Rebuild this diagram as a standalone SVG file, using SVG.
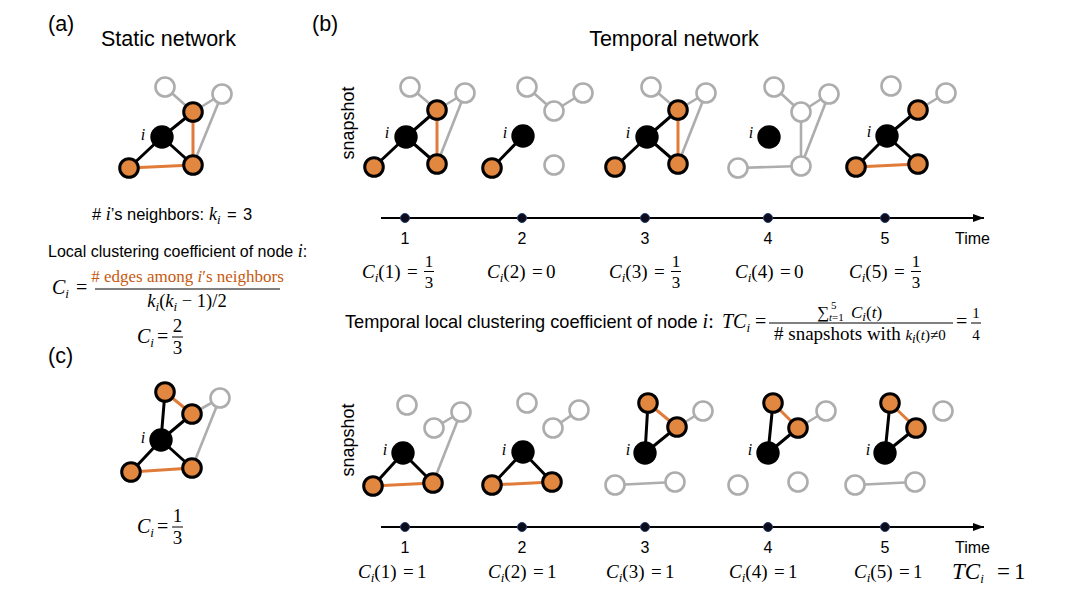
<svg xmlns="http://www.w3.org/2000/svg" width="1072" height="598" viewBox="0 0 1072 598">
<defs>
<style>
.ek{stroke:#000;stroke-width:3;stroke-linecap:round}
.eo{stroke:#E07B39;stroke-width:3}
.eg{stroke:#ADADAD;stroke-width:2.6}
.no{fill:#E2873F;stroke:#000;stroke-width:3}
.nk{fill:#000}
.ng{fill:#fff;stroke:#ADADAD;stroke-width:2.6}
.li{font-family:"Liberation Serif","DejaVu Serif",serif;font-style:italic;font-size:16px;text-anchor:middle;fill:#000}
.sans{font-family:"Liberation Sans",Arial,sans-serif;fill:#000}
.m{font-family:"Liberation Serif","DejaVu Serif",serif;fill:#000}
.it{font-style:italic}
.sub{font-style:italic;font-size:13px}
.tick{font-family:"Liberation Sans",Arial,sans-serif;font-size:16px;text-anchor:middle}
.dot{fill:#0c0c1c;stroke:#24406e;stroke-width:1}
.axis{stroke:#000;stroke-width:2}
.fl{stroke:#000;stroke-width:1}
</style>
<marker id="arr" markerUnits="userSpaceOnUse" markerWidth="11" markerHeight="8" refX="11" refY="4" orient="auto">
<path d="M0,0 L11,4 L0,8 z" fill="#000"/>
</marker>
</defs>
<rect width="1072" height="598" fill="#fff"/>

<!-- Panel labels and titles -->
<text class="sans" x="48" y="31" font-size="21.5">(a)</text>
<text class="sans" x="168.5" y="46" font-size="21.5" text-anchor="middle">Static network</text>
<text class="sans" x="312" y="31" font-size="21.5">(b)</text>
<text class="sans" x="674" y="46" font-size="21.5" text-anchor="middle">Temporal network</text>
<text class="sans" x="48" y="363" font-size="21.5">(c)</text>

<!-- Panel (a) static network -->
<g id="static-net">
<g id="static-edges">
<line class="eg" x1="165" y1="87" x2="193" y2="112"/>
<line class="eg" x1="193" y1="112" x2="222" y2="94"/>
<line class="eg" x1="222" y1="94" x2="193" y2="165"/>
<line class="eo" x1="193" y1="112" x2="193" y2="165"/>
<line class="eo" x1="129" y1="168" x2="193" y2="165"/>
<line class="ek" x1="162" y1="137" x2="193" y2="112"/>
<line class="ek" x1="162" y1="137" x2="129" y2="168"/>
<line class="ek" x1="162" y1="137" x2="193" y2="165"/>
</g>
<g id="static-nodes">
<circle class="ng" cx="165" cy="87" r="9.5"/>
<circle class="ng" cx="222" cy="94" r="9.5"/>
<circle class="no" cx="193" cy="112" r="9.3"/>
<circle class="no" cx="129" cy="168" r="9.3"/>
<circle class="no" cx="193" cy="165" r="9.3"/>
<circle class="nk" cx="162" cy="137" r="11.7"/>
<text class="li" x="143" y="140">i</text>
</g>
</g>

<!-- Panel (a) text -->
<g id="a-text">
<text class="sans" y="220" font-size="16.5"><tspan x="92"># </tspan><tspan class="m it" font-size="18">i</tspan><tspan>’s neighbors: </tspan><tspan class="m it" x="209" font-size="18">k</tspan><tspan class="m sub" dy="4" font-size="12">i</tspan><tspan x="227" dy="-4">=</tspan><tspan x="243">3</tspan></text>
<text class="sans" x="48" y="257" font-size="16">Local clustering coefficient of node <tspan class="m it" font-size="18">i</tspan>:</text>
<text class="m" y="294" font-size="20"><tspan class="it" x="52">C</tspan><tspan class="sub" dy="4">i</tspan><tspan x="76" dy="-4">=</tspan></text>
<text class="m" x="187.5" y="282" font-size="17" text-anchor="middle" style="fill:#C55A11"># edges among <tspan class="it">i</tspan>′s neighbors</text>
<line class="fl" x1="95" y1="289" x2="280" y2="289"/>
<text class="m" x="187" y="307" font-size="18.5" text-anchor="middle"><tspan class="it">k</tspan><tspan class="sub" dy="4">i</tspan><tspan dy="-4">(</tspan><tspan class="it">k</tspan><tspan class="sub" dy="4">i</tspan><tspan dy="-4"> − 1)/2</tspan></text>
<text class="m" y="343" font-size="20"><tspan class="it" x="137">C</tspan><tspan class="sub" dy="4">i</tspan><tspan x="157" dy="-4">=</tspan></text>
<text class="m" x="177.5" y="332" font-size="19" text-anchor="middle">2</text>
<line class="fl" x1="172" y1="337" x2="183" y2="337"/>
<text class="m" x="177.5" y="354" font-size="19" text-anchor="middle">3</text>
</g>

<!-- Panel (c) network -->
<g id="c-net">
<g id="c-edges">
<line class="eg" x1="192" y1="414" x2="220" y2="398"/>
<line class="eg" x1="220" y1="398" x2="192" y2="468"/>
<line class="eo" x1="165" y1="392" x2="192" y2="414"/>
<line class="eo" x1="131" y1="472" x2="192" y2="468"/>
<line class="ek" x1="161" y1="440" x2="165" y2="392"/>
<line class="ek" x1="161" y1="440" x2="192" y2="414"/>
<line class="ek" x1="161" y1="440" x2="131" y2="472"/>
<line class="ek" x1="161" y1="440" x2="192" y2="468"/>
</g>
<g id="c-nodes">
<circle class="ng" cx="220" cy="398" r="9.5"/>
<circle class="no" cx="165" cy="392" r="9.3"/>
<circle class="no" cx="192" cy="414" r="9.3"/>
<circle class="no" cx="131" cy="472" r="9.3"/>
<circle class="no" cx="192" cy="468" r="9.3"/>
<circle class="nk" cx="161" cy="440" r="11.7"/>
<text class="li" x="143" y="443">i</text>
</g>
</g>
<g id="c-text">
<text class="m" y="533" font-size="20"><tspan class="it" x="137">C</tspan><tspan class="sub" dy="4">i</tspan><tspan x="157" dy="-4">=</tspan></text>
<text class="m" x="177.5" y="522" font-size="19" text-anchor="middle">1</text>
<line class="fl" x1="172" y1="527" x2="183" y2="527"/>
<text class="m" x="177.5" y="544" font-size="19" text-anchor="middle">3</text>
</g>

<!-- snapshot labels -->
<text class="sans" font-size="18" text-anchor="middle" transform="translate(354,123) rotate(-90)">snapshot</text>
<text class="sans" font-size="18" text-anchor="middle" transform="translate(354,440) rotate(-90)">snapshot</text>

<!-- Top snapshots -->
<g id="top-1">
<g class="connectors">
<line class="eg" x1="410" y1="87" x2="437" y2="110"/>
<line class="eg" x1="437" y1="110" x2="465" y2="93"/>
<line class="eg" x1="465" y1="93" x2="437" y2="164"/>
<line class="eo" x1="437" y1="110" x2="437" y2="164"/>
<line class="ek" x1="406" y1="137" x2="437" y2="110"/>
<line class="ek" x1="406" y1="137" x2="374" y2="167"/>
<line class="ek" x1="406" y1="137" x2="437" y2="164"/>
</g>
<circle class="ng" cx="410" cy="87" r="9.5"/>
<circle class="ng" cx="465" cy="93" r="9.5"/>
<circle class="no" cx="437" cy="110" r="9.3"/>
<circle class="no" cx="374" cy="167" r="9.3"/>
<circle class="no" cx="437" cy="164" r="9.3"/>
<circle class="nk" cx="406" cy="137" r="11.7"/>
<text class="li" x="387" y="138">i</text>
</g>
<g id="top-2">
<g class="connectors">
<line class="eg" x1="527" y1="87" x2="554" y2="111"/>
<line class="eg" x1="554" y1="111" x2="583" y2="93"/>
<line class="ek" x1="523" y1="136" x2="492" y2="168"/>
</g>
<circle class="ng" cx="527" cy="87" r="9.5"/>
<circle class="ng" cx="554" cy="111" r="9.5"/>
<circle class="ng" cx="583" cy="93" r="9.5"/>
<circle class="ng" cx="554" cy="165" r="9.5"/>
<circle class="no" cx="492" cy="168" r="9.3"/>
<circle class="nk" cx="523" cy="136" r="11.7"/>
<text class="li" x="505" y="138">i</text>
</g>
<g id="top-3">
<g class="connectors">
<line class="eg" x1="651" y1="87" x2="678" y2="110"/>
<line class="eg" x1="678" y1="110" x2="706" y2="93"/>
<line class="eg" x1="706" y1="93" x2="678" y2="164"/>
<line class="eo" x1="678" y1="110" x2="678" y2="164"/>
<line class="ek" x1="647" y1="137" x2="678" y2="110"/>
<line class="ek" x1="647" y1="137" x2="615" y2="167"/>
<line class="ek" x1="647" y1="137" x2="678" y2="164"/>
</g>
<circle class="ng" cx="651" cy="87" r="9.5"/>
<circle class="ng" cx="706" cy="93" r="9.5"/>
<circle class="no" cx="678" cy="110" r="9.3"/>
<circle class="no" cx="615" cy="167" r="9.3"/>
<circle class="no" cx="678" cy="164" r="9.3"/>
<circle class="nk" cx="647" cy="137" r="11.7"/>
<text class="li" x="628" y="138">i</text>
</g>
<g id="top-4">
<g class="connectors">
<line class="eg" x1="774" y1="87" x2="801" y2="112"/>
<line class="eg" x1="801" y1="112" x2="829" y2="94"/>
<line class="eg" x1="801" y1="112" x2="801" y2="166"/>
<line class="eg" x1="829" y1="94" x2="801" y2="166"/>
<line class="eg" x1="738" y1="168" x2="801" y2="166"/>
</g>
<circle class="ng" cx="774" cy="87" r="9.5"/>
<circle class="ng" cx="801" cy="112" r="9.5"/>
<circle class="ng" cx="829" cy="94" r="9.5"/>
<circle class="ng" cx="738" cy="168" r="9.5"/>
<circle class="ng" cx="801" cy="166" r="9.5"/>
<circle class="nk" cx="769" cy="137" r="11.7"/>
<text class="li" x="751" y="138">i</text>
</g>
<g id="top-5">
<g class="connectors">
<line class="eg" x1="918" y1="110" x2="946" y2="93"/>
<line class="eo" x1="856" y1="167" x2="918" y2="164"/>
<line class="ek" x1="887" y1="136" x2="918" y2="110"/>
<line class="ek" x1="887" y1="136" x2="856" y2="167"/>
<line class="ek" x1="887" y1="136" x2="918" y2="164"/>
</g>
<circle class="ng" cx="891" cy="86" r="9.5"/>
<circle class="ng" cx="946" cy="93" r="9.5"/>
<circle class="no" cx="918" cy="110" r="9.3"/>
<circle class="no" cx="856" cy="167" r="9.3"/>
<circle class="no" cx="918" cy="164" r="9.3"/>
<circle class="nk" cx="887" cy="136" r="11.7"/>
<text class="li" x="869" y="137">i</text>
</g>

<!-- Top timeline -->
<g id="timeline-top">
<line class="axis" x1="381" y1="218" x2="984" y2="218" marker-end="url(#arr)"/>
<circle class="dot" cx="405" cy="218" r="4.5"/>
<circle class="dot" cx="522" cy="218" r="4.5"/>
<circle class="dot" cx="645" cy="218" r="4.5"/>
<circle class="dot" cx="768" cy="218" r="4.5"/>
<circle class="dot" cx="885" cy="218" r="4.5"/>
<text class="tick" x="405" y="244">1</text>
<text class="tick" x="522" y="244">2</text>
<text class="tick" x="645" y="244">3</text>
<text class="tick" x="768" y="244">4</text>
<text class="tick" x="885" y="244">5</text>
<text class="sans" x="955" y="244" font-size="16">Time</text>
</g>

<!-- Top C labels -->
<g id="c-top">
<g transform="translate(362,278)">
<text class="m" font-size="19"><tspan class="it" x="0">C</tspan><tspan class="sub" dy="4">i</tspan><tspan dy="-4">(1)</tspan><tspan x="45">=</tspan></text>
<text class="m" x="67" y="-11" font-size="17" text-anchor="middle">1</text>
<line class="fl" x1="62" y1="-6.5" x2="72" y2="-6.5"/>
<text class="m" x="67" y="10" font-size="17" text-anchor="middle">3</text>
</g>
<g transform="translate(487,278)">
<text class="m" font-size="19"><tspan class="it" x="0">C</tspan><tspan class="sub" dy="4">i</tspan><tspan dy="-4">(2)</tspan><tspan x="45">=</tspan><tspan x="59">0</tspan></text>
</g>
<g transform="translate(609,278)">
<text class="m" font-size="19"><tspan class="it" x="0">C</tspan><tspan class="sub" dy="4">i</tspan><tspan dy="-4">(3)</tspan><tspan x="45">=</tspan></text>
<text class="m" x="67" y="-11" font-size="17" text-anchor="middle">1</text>
<line class="fl" x1="62" y1="-6.5" x2="72" y2="-6.5"/>
<text class="m" x="67" y="10" font-size="17" text-anchor="middle">3</text>
</g>
<g transform="translate(735,278)">
<text class="m" font-size="19"><tspan class="it" x="0">C</tspan><tspan class="sub" dy="4">i</tspan><tspan dy="-4">(4)</tspan><tspan x="45">=</tspan><tspan x="59">0</tspan></text>
</g>
<g transform="translate(849,278)">
<text class="m" font-size="19"><tspan class="it" x="0">C</tspan><tspan class="sub" dy="4">i</tspan><tspan dy="-4">(5)</tspan><tspan x="45">=</tspan></text>
<text class="m" x="67" y="-11" font-size="17" text-anchor="middle">1</text>
<line class="fl" x1="62" y1="-6.5" x2="72" y2="-6.5"/>
<text class="m" x="67" y="10" font-size="17" text-anchor="middle">3</text>
</g>
</g>

<!-- TC formula -->
<g id="tc-formula">
<text class="sans" x="345" y="328" font-size="18.2">Temporal local clustering coefficient of node <tspan class="m it" font-size="20">i</tspan><tspan class="m" font-size="20">:</tspan><tspan class="m it" x="722" font-size="20">TC</tspan><tspan class="m sub" dy="4" font-size="14">i</tspan><tspan class="m" x="755" dy="-4" font-size="20">=</tspan></text>
<text class="m" x="817" y="318" font-size="17">∑</text>
<text class="m" x="831" y="309" font-size="11">5</text>
<text class="m" x="829" y="321" font-size="11"><tspan class="it">t</tspan>=1</text>
<text class="m" x="851" y="318" font-size="17"><tspan class="it">C</tspan><tspan class="sub" font-size="12" dy="3">i</tspan><tspan dy="-3">(</tspan><tspan class="it">t</tspan>)</text>
<line class="fl" x1="769" y1="323" x2="953" y2="323"/>
<text class="m" x="774" y="340" font-size="19"># snapshots with <tspan class="it" font-size="15">k</tspan><tspan class="sub" font-size="10" dy="3">i</tspan><tspan font-size="15" dy="-3">(</tspan><tspan class="it" font-size="15">t</tspan><tspan font-size="15">)≠0</tspan></text>
<text class="m" x="956" y="328" font-size="20">=</text>
<text class="m" x="976" y="318" font-size="15" text-anchor="middle">1</text>
<line class="fl" x1="971" y1="323" x2="981" y2="323"/>
<text class="m" x="976" y="340" font-size="15" text-anchor="middle">4</text>
</g>

<!-- Bottom snapshots -->
<g id="bot-1">
<g class="connectors">
<line class="eg" x1="434" y1="428" x2="461" y2="412"/>
<line class="eg" x1="461" y1="412" x2="433" y2="483"/>
<line class="eo" x1="373" y1="486" x2="433" y2="483"/>
<line class="ek" x1="403" y1="453" x2="373" y2="486"/>
<line class="ek" x1="403" y1="453" x2="433" y2="483"/>
</g>
<circle class="ng" cx="407" cy="405" r="9.5"/>
<circle class="ng" cx="434" cy="428" r="9.5"/>
<circle class="ng" cx="461" cy="412" r="9.5"/>
<circle class="no" cx="373" cy="486" r="9.3"/>
<circle class="no" cx="433" cy="483" r="9.3"/>
<circle class="nk" cx="403" cy="453" r="11.7"/>
<text class="li" x="385" y="455">i</text>
</g>
<g id="bot-2">
<g class="connectors">
<line class="eg" x1="553" y1="428" x2="579" y2="410"/>
<line class="eo" x1="492" y1="485" x2="552" y2="482"/>
<line class="ek" x1="523" y1="452" x2="492" y2="485"/>
<line class="ek" x1="523" y1="452" x2="552" y2="482"/>
</g>
<circle class="ng" cx="527" cy="403" r="9.5"/>
<circle class="ng" cx="553" cy="428" r="9.5"/>
<circle class="ng" cx="579" cy="410" r="9.5"/>
<circle class="no" cx="492" cy="485" r="9.3"/>
<circle class="no" cx="552" cy="482" r="9.3"/>
<circle class="nk" cx="523" cy="452" r="11.7"/>
<text class="li" x="504" y="455">i</text>
</g>
<g id="bot-3">
<g class="connectors">
<line class="eg" x1="677" y1="427" x2="703" y2="411"/>
<line class="eg" x1="615" y1="485" x2="675" y2="482"/>
<line class="eo" x1="648" y1="403" x2="677" y2="427"/>
<line class="ek" x1="645" y1="453" x2="648" y2="403"/>
<line class="ek" x1="645" y1="453" x2="677" y2="427"/>
</g>
<circle class="ng" cx="703" cy="411" r="9.5"/>
<circle class="ng" cx="615" cy="485" r="9.5"/>
<circle class="ng" cx="675" cy="482" r="9.5"/>
<circle class="no" cx="648" cy="403" r="9.3"/>
<circle class="no" cx="677" cy="427" r="9.3"/>
<circle class="nk" cx="645" cy="453" r="11.7"/>
<text class="li" x="628" y="455">i</text>
</g>
<g id="bot-4">
<g class="connectors">
<line class="eg" x1="798" y1="428" x2="826" y2="411"/>
<line class="eo" x1="773" y1="403" x2="798" y2="428"/>
<line class="ek" x1="768" y1="453" x2="773" y2="403"/>
<line class="ek" x1="768" y1="453" x2="798" y2="428"/>
</g>
<circle class="ng" cx="826" cy="411" r="9.5"/>
<circle class="ng" cx="738" cy="485" r="9.5"/>
<circle class="ng" cx="798" cy="482" r="9.5"/>
<circle class="no" cx="773" cy="403" r="9.3"/>
<circle class="no" cx="798" cy="428" r="9.3"/>
<circle class="nk" cx="768" cy="453" r="11.7"/>
<text class="li" x="750" y="455">i</text>
</g>
<g id="bot-5">
<g class="connectors">
<line class="eg" x1="855" y1="485" x2="915" y2="482"/>
<line class="eo" x1="890" y1="403" x2="916" y2="428"/>
<line class="ek" x1="885" y1="453" x2="890" y2="403"/>
<line class="ek" x1="885" y1="453" x2="916" y2="428"/>
</g>
<circle class="ng" cx="943" cy="411" r="9.5"/>
<circle class="ng" cx="855" cy="485" r="9.5"/>
<circle class="ng" cx="915" cy="482" r="9.5"/>
<circle class="no" cx="890" cy="403" r="9.3"/>
<circle class="no" cx="916" cy="428" r="9.3"/>
<circle class="nk" cx="885" cy="453" r="11.7"/>
<text class="li" x="868" y="455">i</text>
</g>

<!-- Bottom timeline -->
<g id="timeline-bottom">
<line class="axis" x1="381" y1="527" x2="984" y2="527" marker-end="url(#arr)"/>
<circle class="dot" cx="405" cy="527" r="4.5"/>
<circle class="dot" cx="522" cy="527" r="4.5"/>
<circle class="dot" cx="645" cy="527" r="4.5"/>
<circle class="dot" cx="768" cy="527" r="4.5"/>
<circle class="dot" cx="885" cy="527" r="4.5"/>
<text class="tick" x="405" y="553">1</text>
<text class="tick" x="522" y="553">2</text>
<text class="tick" x="645" y="553">3</text>
<text class="tick" x="768" y="553">4</text>
<text class="tick" x="885" y="553">5</text>
<text class="sans" x="955" y="553" font-size="16">Time</text>
</g>

<!-- Bottom C labels -->
<g id="c-bottom">
<text class="m" y="578" font-size="19"><tspan class="it" x="358">C</tspan><tspan class="sub" dy="4">i</tspan><tspan dy="-4">(1)</tspan><tspan x="403">=</tspan><tspan x="417">1</tspan></text>
<text class="m" y="578" font-size="19"><tspan class="it" x="488">C</tspan><tspan class="sub" dy="4">i</tspan><tspan dy="-4">(2)</tspan><tspan x="533">=</tspan><tspan x="547">1</tspan></text>
<text class="m" y="578" font-size="19"><tspan class="it" x="606">C</tspan><tspan class="sub" dy="4">i</tspan><tspan dy="-4">(3)</tspan><tspan x="651">=</tspan><tspan x="665">1</tspan></text>
<text class="m" y="578" font-size="19"><tspan class="it" x="729">C</tspan><tspan class="sub" dy="4">i</tspan><tspan dy="-4">(4)</tspan><tspan x="774">=</tspan><tspan x="788">1</tspan></text>
<text class="m" y="578" font-size="19"><tspan class="it" x="854">C</tspan><tspan class="sub" dy="4">i</tspan><tspan dy="-4">(5)</tspan><tspan x="899">=</tspan><tspan x="913">1</tspan></text>
<text class="m" y="579" font-size="23"><tspan class="it" x="952">TC</tspan><tspan class="sub" font-size="16" dy="4">i</tspan><tspan x="997" dy="-4">=</tspan><tspan x="1014">1</tspan></text>
</g>
</svg>
